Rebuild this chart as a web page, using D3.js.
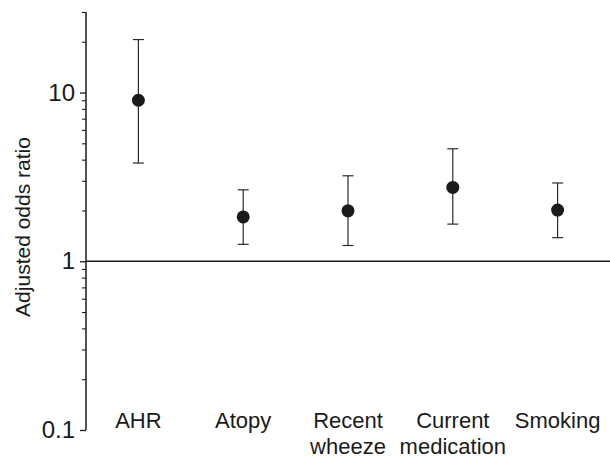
<!DOCTYPE html>
<html>
<head>
<meta charset="utf-8">
<script src="https://cdn.jsdelivr.net/npm/d3@7"></script>
<style>
  body { margin: 0; background: #fff; }
  svg { display: block; }
  text { font-family: "Liberation Sans", Arial, Helvetica, sans-serif; fill: #1a1a1a; }
</style>
</head>
<body>
<svg width="610" height="460"></svg>
<script>
"use strict";

// data
var categories = ["AHR", "Atopy", "Recent\nwheeze", "Current\nmedication", "Smoking"];
var oddsRatio  = [9.0, 1.83, 1.99, 2.74, 2.01];
var ciLower    = [3.82, 1.26, 1.24, 1.66, 1.38];
var ciUpper    = [20.6, 2.65, 3.21, 4.64, 2.91];
var majorTicks = [0.1, 1, 10];
var minorTicks = [0.2, 0.3, 0.4, 0.5, 0.6, 0.7, 0.8, 0.9,
                  2, 3, 4, 5, 6, 7, 8, 9, 20, 30];

var svg = d3.select("svg");
var plotLeft = 86, plotRight = 610, plotTop = 12, plotBottom = 430;

var x = d3.scaleBand().domain(categories).range([plotLeft, plotRight]);
var y = d3.scaleLog().domain([0.1, 30]).range([plotBottom, plotTop]);

var rows = categories.map(function(c, i) {
    return {cat: c, or: oddsRatio[i], lo: ciLower[i], hi: ciUpper[i]};
});

// y axis, major ticks with labels
var axis = svg.append("g").attr("transform", "translate(" + plotLeft + ",0)");
axis.call(d3.axisLeft(y).tickValues(majorTicks).tickSize(6).tickPadding(5)
    .tickFormat(d3.format("~g")));
axis.select(".domain").remove();
axis.selectAll(".tick line").attr("stroke", "#1a1a1a").attr("stroke-width", 1.3);
axis.selectAll(".tick text")
    .style("font-size", "24px")
    .style("font-family", "'Liberation Sans', Arial, sans-serif")
    .attr("fill", "#1a1a1a");

// minor ticks
axis.append("g").call(d3.axisLeft(y).tickValues(minorTicks).tickSize(4).tickFormat(""))
    .call(function(g) {
        g.select(".domain").remove();
        g.selectAll(".tick line").attr("stroke", "#1a1a1a").attr("stroke-width", 1.1);
    });

axis.append("line")
    .attr("x1", 0).attr("x2", 0)
    .attr("y1", y(30)).attr("y2", y(0.1))
    .attr("stroke", "#1a1a1a").attr("stroke-width", 1.5);

// reference line at OR = 1
svg.append("line")
    .attr("x1", plotLeft).attr("x2", plotRight)
    .attr("y1", y(1)).attr("y2", y(1))
    .attr("stroke", "#1a1a1a").attr("stroke-width", 1.5);

// y title
svg.append("text")
    .attr("transform", "translate(30," + ((plotTop + plotBottom) / 2 + 6) + ") rotate(-90)")
    .attr("text-anchor", "middle")
    .style("font-size", "21px")
    .text("Adjusted odds ratio");

// error bars and points
var cap = 5.5;
var g = svg.append("g").selectAll("g").data(rows).enter().append("g")
    .attr("transform", function(d) { return "translate(" + (x(d.cat) + x.bandwidth() / 2) + ",0)"; });

g.append("line")
    .attr("y1", function(d) { return y(d.lo); })
    .attr("y2", function(d) { return y(d.hi); })
    .attr("stroke", "#2a2a2a").attr("stroke-width", 1.2);
g.append("line")
    .attr("x1", -cap).attr("x2", cap)
    .attr("y1", function(d) { return y(d.hi); })
    .attr("y2", function(d) { return y(d.hi); })
    .attr("stroke", "#2a2a2a").attr("stroke-width", 1.2);
g.append("line")
    .attr("x1", -cap).attr("x2", cap)
    .attr("y1", function(d) { return y(d.lo); })
    .attr("y2", function(d) { return y(d.lo); })
    .attr("stroke", "#2a2a2a").attr("stroke-width", 1.2);
g.append("circle")
    .attr("cy", function(d) { return y(d.or); })
    .attr("r", 6.5)
    .attr("fill", "#1a1a1a");

// category labels
g.append("text")
    .attr("text-anchor", "middle")
    .style("font-size", "22px")
    .each(function(d) {
        var sel = d3.select(this);
        d.cat.split("\n").forEach(function(line, i) {
            sel.append("tspan").attr("x", 0).attr("y", 428 + i * 26).text(line);
        });
    });
</script>
</body>
</html>
